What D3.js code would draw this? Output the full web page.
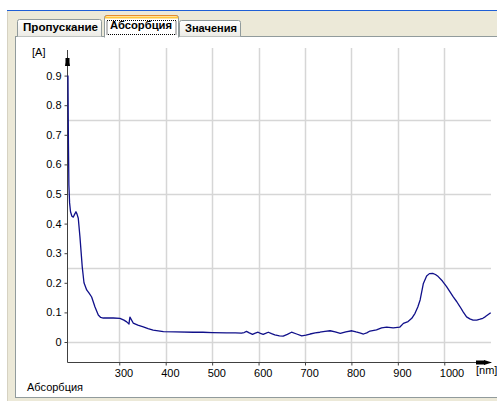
<!DOCTYPE html>
<html><head><meta charset="utf-8">
<script src="https://cdn.jsdelivr.net/npm/d3@7"></script>
<style>
html,body{margin:0;padding:0;background:#fff;overflow:hidden;}
svg{display:block;}
text{font-family:"Liberation Sans",Arial,sans-serif;}
</style></head>
<body>
<svg id="c" width="497" height="401"></svg>
<script>
// ---- data ----
const tabLabels = ["Пропускание", "Абсорбция", "Значения"];
const xTicks = [300, 400, 500, 600, 700, 800, 900, 1000];
const yTicks = [0, 0.1, 0.2, 0.3, 0.4, 0.5, 0.6, 0.7, 0.8, 0.9];
const yGrid = [0, 0.25, 0.5, 0.75];
const xUnit = "[nm]";
const yUnit = "[A]";
const seriesName = "Абсорбция";
const wavelength = [189.5,190.5,191.5,193,195,196,198,201,204,206.7,209,211.7,215.3,220.3,224,229.8,235,240.5,247.7,254.8,260,265.5,275,287,301.5,310,316,321,321.8,323,330,340,351.7,362,373,395,420,459,480,500,531,550,563,569,574,580,587,593,599,604,610,615,621,628,635,645,653,662,671,682,693,702,711,722,732,743,754,765,776,788,801,810,818,826,833,840,854,865,876,890,904,912,922,930,937,943,948,955,962,968,975,981,987,996,1005,1012,1019,1027,1034,1041,1048,1055,1062,1070,1077,1083,1088,1094,1100];
const absorbance = [0.90,0.67,0.53,0.47,0.44,0.435,0.425,0.422,0.432,0.44,0.432,0.418,0.355,0.253,0.20,0.176,0.165,0.152,0.118,0.091,0.083,0.081,0.081,0.081,0.080,0.074,0.068,0.061,0.072,0.084,0.064,0.057,0.051,0.045,0.040,0.035,0.034,0.033,0.033,0.032,0.031,0.031,0.030,0.032,0.036,0.031,0.026,0.030,0.033,0.029,0.026,0.029,0.033,0.028,0.024,0.021,0.020,0.026,0.033,0.027,0.021,0.023,0.027,0.031,0.033,0.036,0.038,0.034,0.029,0.034,0.038,0.034,0.031,0.027,0.031,0.037,0.041,0.048,0.050,0.048,0.050,0.063,0.069,0.080,0.097,0.118,0.142,0.198,0.223,0.231,0.232,0.228,0.221,0.206,0.187,0.170,0.153,0.136,0.119,0.101,0.085,0.078,0.074,0.074,0.077,0.080,0.085,0.092,0.099];

const data = wavelength.map((w,i)=>({x:w,y:absorbance[i]}));

const svg = d3.select("#c");

// ---- window background ----
svg.append("rect").attr("x",7).attr("y",10).attr("width",490).attr("height",391).attr("fill","#ECE9D8");
svg.append("rect").attr("x",7).attr("y",10).attr("width",490).attr("height",1).attr("fill","#1f5fd6");
svg.append("rect").attr("x",7).attr("y",11).attr("width",1).attr("height",390).attr("fill","#d6d2c2");

// panel
svg.append("rect").attr("x",15.5).attr("y",36.5).attr("width",490).attr("height",361)
  .attr("fill","#fff").attr("stroke","#919b9c");

// ---- tabs ----
const defs = svg.append("defs");
const g1 = defs.append("linearGradient").attr("id","tabg").attr("x1",0).attr("y1",0).attr("x2",0).attr("y2",1);
g1.append("stop").attr("offset","0%").attr("stop-color","#ffffff");
g1.append("stop").attr("offset","100%").attr("stop-color","#ecebe5");

function tabPath(x0,x1,y0,y1){
  return `M${x0},${y1} L${x0},${y0+2} Q${x0},${y0} ${x0+2},${y0} L${x1-2},${y0} Q${x1},${y0} ${x1},${y0+2} L${x1},${y1}`;
}
const tabs = [
  {x0:17.5,x1:101.5,y0:19.5,y1:36.5,tx:23,ty:31,tw:75,active:false},
  {x0:104.5,x1:178.5,y0:15.5,y1:37.5,tx:110,ty:28.5,tw:62,active:true},
  {x0:179.5,x1:240.5,y0:20.5,y1:36.5,tx:185,ty:31.5,tw:52,active:false}
];
tabs.forEach((t,i)=>{
  if(!t.active){
    svg.append("path").attr("d",tabPath(t.x0,t.x1,t.y0,t.y1)+"Z").attr("fill","url(#tabg)").attr("stroke","none");
    svg.append("path").attr("d",tabPath(t.x0,t.x1,t.y0,t.y1)).attr("fill","none").attr("stroke","#919b9c");
  }
});
tabs.forEach((t,i)=>{
  if(t.active){
    svg.append("rect").attr("x",t.x0).attr("y",t.y0).attr("width",t.x1-t.x0).attr("height",t.y1-t.y0+1).attr("fill","#fff");
    svg.append("path").attr("d",tabPath(t.x0,t.x1,t.y0,t.y1)).attr("fill","none").attr("stroke","#919b9c");
    svg.append("path").attr("d",`M${t.x0+0.5},${t.y0+2.5} Q${t.x0+0.5},${t.y0} ${t.x0+2.5},${t.y0} L${t.x1-2.5},${t.y0} Q${t.x1-0.5},${t.y0} ${t.x1-0.5},${t.y0+2.5}`)
      .attr("fill","none").attr("stroke","#e68b2c").attr("stroke-width",1);
    svg.append("rect").attr("x",t.x0+0.5).attr("y",t.y0+1).attr("width",t.x1-t.x0-1).attr("height",2).attr("fill","#ffc73c");
    svg.append("rect").attr("x",t.x0+2.5).attr("y",t.y0+5).attr("width",t.x1-t.x0-5).attr("height",14)
      .attr("fill","none").attr("stroke","#000").attr("stroke-dasharray","1,1");
  }
  svg.append("text").attr("x",t.tx).attr("y",t.ty).attr("font-size",11).attr("font-weight","bold")
    .attr("fill","#000").attr("textLength",t.tw).attr("lengthAdjust","spacingAndGlyphs").text(tabLabels[i]);
});

// ---- scales ----
const x = d3.scaleLinear().domain([190,1100]).range([68.2,490.7]);
const y = d3.scaleLinear().domain([0,1]).range([342,46]);
const axisX = 67.5, axisY = 362.5;

// grid
svg.append("g").selectAll("line").data(xTicks).join("line")
  .attr("x1",d=>Math.round(x(d))+0.5).attr("x2",d=>Math.round(x(d))+0.5)
  .attr("y1",48).attr("y2",axisY).attr("stroke","#d6d6d6").attr("stroke-width",1.5);
svg.append("g").selectAll("line").data(yGrid).join("line")
  .attr("x1",axisX).attr("x2",491).attr("y1",d=>Math.round(y(d))+0.5).attr("y2",d=>Math.round(y(d))+0.5)
  .attr("stroke","#d6d6d6").attr("stroke-width",1.5);

// y axis
const yAxis = d3.axisLeft(y).tickValues(yTicks).tickSize(3).tickPadding(3)
  .tickFormat(d=> d===0 ? "0" : d3.format(".1f")(d));
const gy = svg.append("g").attr("transform",`translate(${axisX},0)`).call(yAxis);
gy.select(".domain").remove();
gy.selectAll(".tick line").attr("stroke","#404040");
gy.selectAll(".tick text").attr("font-size",11).attr("font-family","Liberation Sans, Arial, sans-serif").attr("fill","#000");

// x axis
const xAxis = d3.axisBottom(x).tickValues(xTicks).tickSize(3).tickPadding(4).tickFormat(d3.format("d"));
const gx = svg.append("g").attr("transform",`translate(0,${axisY})`).call(xAxis);
gx.select(".domain").remove();
gx.selectAll(".tick line").attr("stroke","#404040");
gx.selectAll(".tick text").attr("font-size",11).attr("font-family","Liberation Sans, Arial, sans-serif").attr("fill","#000")
  .attr("text-anchor","start").attr("dx",-5);

// axis lines with arrows
svg.append("line").attr("x1",axisX).attr("x2",axisX).attr("y1",50).attr("y2",axisY).attr("stroke","#404040");
svg.append("line").attr("x1",axisX).attr("x2",491).attr("y1",axisY).attr("y2",axisY).attr("stroke","#404040");
svg.append("path").attr("d",`M${axisX},57 L${axisX-2.5},66 L${axisX+2.5},66 Z`).attr("fill","#000");
svg.append("rect").attr("x",axisX-2).attr("y",58).attr("width",4).attr("height",8).attr("fill","#000");
svg.append("path").attr("d",`M492,${axisY} L484,${axisY-2.5} L484,${axisY+2.5} Z`).attr("fill","#000");
svg.append("rect").attr("x",476).attr("y",axisY-2).attr("width",9).attr("height",4).attr("fill","#000");

// unit labels
svg.append("text").attr("x",32).attr("y",56).attr("font-size",11).text(yUnit);
svg.append("text").attr("x",476).attr("y",374).attr("font-size",11).text(xUnit);
svg.append("text").attr("x",27).attr("y",391).attr("font-size",11).text(seriesName);

// curve
const line = d3.line().x(d=>x(d.x)).y(d=>y(d.y)).curve(d3.curveLinear);
svg.append("path").datum(data).attr("d",line).attr("fill","none")
  .attr("stroke","#10108a").attr("stroke-width",1.3).attr("stroke-linejoin","round");
</script>
</body></html>
